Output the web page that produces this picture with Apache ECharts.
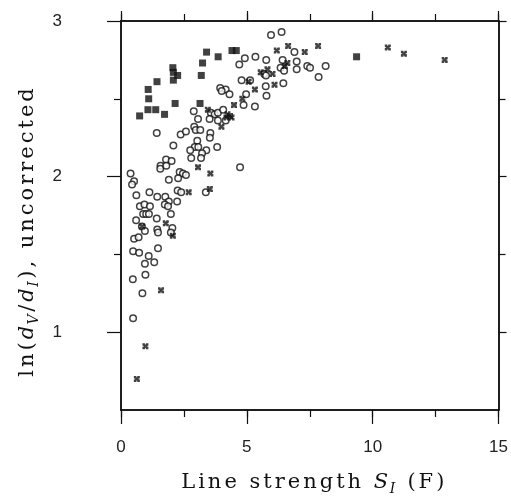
<!DOCTYPE html>
<html><head><meta charset="utf-8">
<script src="https://cdn.jsdelivr.net/npm/echarts@6/dist/echarts.min.js"></script>
<style>html,body{margin:0;padding:0;background:#fff}#c{width:511px;height:501px}</style>
</head><body><div id="c"></div>
<script>
// Tick labels
const xTickLabels = [0, 5, 10, 15];
const yTickLabels = [1, 2, 3];
const yMinorTicks = [1.5, 2.5];

// Series: [line strength S_I, ln(dV/dI)]
const circles = [
[5.96,2.91],[6.38,2.93],[4.92,2.76],[5.34,2.77],[4.70,2.72],[5.77,2.75],[6.89,2.80],[6.42,2.75],[6.98,2.74],[6.34,2.70],
[6.48,2.68],[6.98,2.69],[7.40,2.71],[7.51,2.70],[8.13,2.71],[7.85,2.64],[5.69,2.66],[5.76,2.65],[4.79,2.62],[5.13,2.62],
[5.75,2.58],[6.45,2.60],[4.16,2.56],[4.31,2.53],[4.97,2.53],[5.78,2.52],[4.87,2.46],[5.32,2.45],[3.94,2.57],[4.00,2.55],
[2.89,2.42],[3.06,2.37],[3.57,2.41],[3.72,2.40],[3.85,2.41],[4.06,2.43],[3.52,2.37],[3.85,2.36],[4.16,2.36],[1.42,2.28],
[2.37,2.27],[2.58,2.29],[2.91,2.32],[2.97,2.30],[3.15,2.30],[3.55,2.28],[3.53,2.25],[2.08,2.20],[3.03,2.23],[2.93,2.19],
[2.75,2.17],[3.07,2.19],[3.39,2.17],[3.82,2.19],[3.22,2.15],[3.18,2.12],[2.79,2.12],[1.79,2.11],[2.01,2.10],[1.57,2.07],
[1.56,2.05],[1.80,2.07],[4.73,2.06],[2.33,2.03],[2.46,2.02],[2.58,2.01],[2.27,1.99],[1.90,1.98],[0.38,2.02],[0.52,1.97],
[0.44,1.95],[1.13,1.90],[1.44,1.87],[1.76,1.87],[2.25,1.91],[2.39,1.90],[3.37,1.90],[0.61,1.88],[1.90,1.84],[2.23,1.84],
[0.75,1.81],[0.93,1.82],[1.15,1.81],[1.74,1.82],[1.87,1.81],[0.88,1.76],[1.00,1.76],[1.11,1.76],[1.42,1.73],[1.98,1.76],
[0.60,1.72],[0.83,1.68],[0.95,1.65],[1.44,1.66],[1.47,1.64],[2.04,1.67],[1.98,1.64],[0.52,1.60],[0.70,1.61],[1.47,1.54],
[0.48,1.52],[0.72,1.51],[1.10,1.49],[1.32,1.45],[0.95,1.44],[0.97,1.37],[0.47,1.34],[0.85,1.25],[0.48,1.09]
];
const squares = [
[3.40,2.80],[3.86,2.77],[3.24,2.73],[2.06,2.70],[2.08,2.67],[2.25,2.65],[3.19,2.65],[2.08,2.62],[1.43,2.61],[1.08,2.56],
[1.10,2.50],[2.15,2.47],[3.14,2.47],[1.07,2.43],[1.38,2.43],[1.73,2.40],[0.74,2.39],[4.41,2.81],[4.58,2.81],[9.36,2.77]
];
const crosses = [
[6.64,2.84],[7.83,2.84],[6.19,2.81],[7.30,2.80],[10.60,2.83],[11.24,2.79],[12.86,2.75],[6.61,2.73],[6.51,2.71],[5.82,2.69],
[5.55,2.67],[6.02,2.66],[5.07,2.61],[6.10,2.59],[5.32,2.56],[4.82,2.50],[4.49,2.46],[3.45,2.43],[4.23,2.40],[4.33,2.39],
[4.39,2.38],[4.19,2.38],[3.99,2.32],[3.06,2.06],[3.55,2.02],[2.69,1.90],[3.53,1.92],[1.78,1.70],[2.06,1.62],[0.84,1.68],
[1.59,1.27],[0.97,0.91],[0.63,0.70]
];

const chart = echarts.init(document.getElementById('c'));
const black = '#111';
const tickFont = {color: '#222', fontFamily: 'Liberation Sans', fontSize: 17};
const serif = 'DejaVu Serif';
const nameRich = {
  n: {fontFamily: serif, fontSize: 21, color: black, lineHeight: 26, padding: [0, 1.5, 0, 1.5]},
  i: {fontFamily: serif, fontSize: 21, fontStyle: 'italic', color: black, lineHeight: 26, padding: [0, 1.5, 0, 1.5]},
  s: {fontFamily: serif, fontSize: 14, fontStyle: 'italic', color: black, lineHeight: 12, verticalAlign: 'bottom', padding: [0, 1, 0, 0]}
};
// wrap each character of a plain-text run as its own token so it gets letter spacing
function run(style, str) {
  return str.split('').map(c => '{' + style + '|' + c + '}').join('');
}
function xa(pos, interval, len, opts) {
  return Object.assign({
    type: 'value', position: pos, min: 0, max: 15, interval: interval,
    axisLine: {show: true, onZero: false, lineStyle: {color: black, width: 1.5}},
    axisTick: {show: true, inside: false, length: len, lineStyle: {color: black, width: 1.2}},
    axisLabel: {show: false}, splitLine: {show: false}
  }, opts || {});
}
function ya(pos, vals, len, opts) {
  return Object.assign({
    type: 'value', position: pos, min: 0.5, max: 3,
    axisLine: {show: true, onZero: false, lineStyle: {color: black, width: 1.5}},
    axisTick: {show: true, inside: false, length: len, customValues: vals, lineStyle: {color: black, width: 1.2}},
    axisLabel: {show: false}, splitLine: {show: false}
  }, opts || {});
}
const xName = run('n', 'Line strength ') + run('i', 'S') + '{s|I}' + run('n', ' (F)');
const yName = run('n', 'ln(') + run('i', 'd') + '{s|V}' + run('n', '/') + run('i', 'd') + '{s|I}' + run('n', '), uncorrected');
chart.setOption({
  animation: false,
  backgroundColor: '#fff',
  grid: {left: 121, right: 10.5, top: 21, bottom: 91},
  xAxis: [
    xa('bottom', 5, 14, {
      axisLabel: {show: true, margin: 29, ...tickFont, formatter: v => xTickLabels.includes(v) ? String(v) : ''},
      name: xName, nameLocation: 'middle', nameGap: 60,
      nameTextStyle: {rich: nameRich, padding: [0, 0, 0, 6]}
    }),
    xa('bottom', 2.5, 7),
    xa('top', 5, 10),
    xa('top', 2.5, 7)
  ],
  yAxis: [
    ya('left', yTickLabels, 14, {
      axisLabel: {show: true, margin: 59, customValues: yTickLabels, ...tickFont},
      name: yName, nameLocation: 'middle', nameGap: 80, nameRotate: 90,
      nameTextStyle: {rich: nameRich, padding: [0, 34, 0, 0]}
    }),
    ya('left', yMinorTicks, 7),
    ya('right', yTickLabels, 8),
    ya('right', yMinorTicks, 7)
  ],
  series: [
    {type: 'scatter', data: circles, symbol: 'circle', symbolSize: 6.5,
     itemStyle: {color: '#fff', borderColor: black, borderWidth: 1.5}},
    {type: 'scatter', data: squares, symbol: 'rect', symbolSize: 7,
     itemStyle: {color: black}},
    {type: 'scatter', data: crosses, symbolSize: 6,
     symbol: 'path://M0,0L4,0L5,3L6,0L10,0L10,4L7,5L10,6L10,10L6,10L5,7L4,10L0,10L0,6L3,5L0,4Z',
     itemStyle: {color: black}}
  ]
});
</script></body></html>
